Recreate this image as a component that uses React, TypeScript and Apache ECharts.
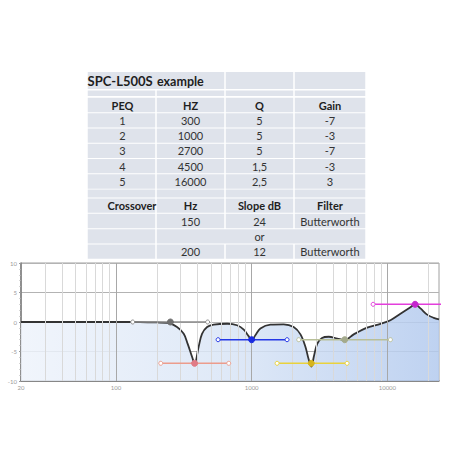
import React, { useEffect, useRef } from "react";
import * as echarts from "echarts";

// ---------- table data ----------
const titleMain = "SPC-L500S";
const titleSub = "example";
const peqHeader = ["PEQ", "HZ", "Q", "Gain"];
const peqRows = [
  ["1", "300", "5", "-7"],
  ["2", "1000", "5", "-3"],
  ["3", "2700", "5", "-7"],
  ["4", "4500", "1,5", "-3"],
  ["5", "16000", "2,5", "3"],
];
const xoHeader = ["Crossover", "Hz", "Slope dB", "Filter"];
const xoRows = [
  ["", "150", "24", "Butterworth"],
  ["", "or"],
  ["", "200", "12", "Butterworth"],
];

// ---------- chart data ----------
const xMin = 20;
const xMax = 24000;
const yTicks = [-10, -5, 0, 5, 10];
const curveFreq = [
  20, 50, 100, 150, 200, 240, 282, 316, 338, 364, 380, 407, 431, 470, 525, 660,
  780, 875, 950, 1000, 1065, 1160, 1375, 1720, 2040, 2290, 2490, 2630, 2760,
  2870, 3040, 3300, 3700, 4270, 4850, 5650, 7090, 8890, 10530, 12480, 14790,
  16000, 17520, 19630, 21950, 24000,
];
const curveGain = [
  0, 0, 0, -0.02, -0.08, -0.15, -0.85, -2.0, -3.7, -5.9, -7.05, -4.2, -2.0,
  -0.85, -0.45, -0.3, -0.55, -1.3, -2.4, -3.1, -2.25, -1.1, -0.45, -0.4, -0.85,
  -2.1, -4.2, -6.3, -7.55, -5.9, -3.7, -2.7, -2.5, -2.8, -3.05, -2.1, -0.95,
  -0.3, 0.3, 1.4, 2.5, 3.0, 2.3, 1.25, 0.7, 0.45,
];
const handleNames = ["HP", "PEQ1", "PEQ2", "PEQ3", "PEQ4", "PEQ5"];
const handleLow = [133, 214, 566, 1540, 2222, 7850];
const handleCenter = [252, 380, 1000, 2750, 4850, 16000];
const handleHigh = [474, 678, 1824, 5050, 10530, 33000];
const handleGain = [0, -7, -3, -7, -3, 3];
const handleColors = ["#8c8c8c", "#ec9c8c", "#2437e6", "#e9d23c", "#b8bf98", "#e33fdc"];
const handleCenterColors = ["#6f6f6f", "#e07b86", "#1a2be0", "#d6b41c", "#a4aa8c", "#c526cf"];
const minorGridFreq = [
  30, 40, 50, 60, 70, 80, 90, 200, 300, 400, 500, 600, 700, 800, 900, 2000,
  3000, 4000, 5000, 6000, 7000, 8000, 9000, 20000,
];
const majorGridFreq = [100, 1000, 10000];

const FONT = "Lato, 'Open Sans', sans-serif";

function buildTable(): any[] {
  const els: any[] = [];
  const cols = [87, 156, 225, 294, 366];
  const fill = "#dfe3eb";
  const cell = (x0: number, x1: number, yc: number, h: number) => {
    els.push({
      type: "rect",
      shape: { x: x0 + 0.75, y: yc - h / 2, width: x1 - x0 - 1.5, height: h },
      style: { fill },
      silent: true,
    });
  };
  const txt = (text: string, x: number, y: number, bold: boolean, size = 11, align = "center") => {
    if (!text) return;
    els.push({
      type: "text",
      x,
      y,
      style: {
        text,
        fill: bold ? "#1e1e1e" : "#333333",
        font: `${bold ? "bold " : ""}${size}px ${FONT}`,
        align,
        verticalAlign: "middle",
      },
      silent: true,
    });
  };
  const colC = (i: number) => (cols[i] + cols[i + 1]) / 2;
  // title row
  const tY = 80.5;
  cell(cols[0], cols[2], tY, 17);
  cell(cols[2], cols[3], tY, 17);
  cell(cols[3], cols[4], tY, 17);
  txt(titleMain, 87.5, tY, true, 13, "left");
  txt(titleSub, 157, tY + 0.5, true, 12.5, "left");
  // spacer
  for (let c = 0; c < 4; c++) cell(cols[c], cols[c + 1], 93.3, 5.6);
  const pitch = 15.3;
  const h = 14.3;
  const peqAll = [peqHeader, ...peqRows];
  peqAll.forEach((row, r) => {
    const yc = 105 + r * pitch;
    for (let c = 0; c < 4; c++) {
      cell(cols[c], cols[c + 1], yc, h);
      txt(row[c], colC(c) + (c === 0 ? 1 : 0), yc, r === 0);
    }
  });
  // spacer 2
  for (let c = 0; c < 4; c++) cell(cols[c], cols[c + 1], 193.5, 8);
  const xoAll = [xoHeader, ...xoRows];
  xoAll.forEach((row, r) => {
    const yc = 205.7 + r * pitch;
    if (row.length === 2) {
      cell(cols[0], cols[1], yc, h);
      cell(cols[1], cols[4], yc, h);
      txt(row[1], colC(2), yc, false);
      return;
    }
    for (let c = 0; c < 4; c++) {
      cell(cols[c], cols[c + 1], yc, h);
      const x = c === 0 ? 132 : colC(c);
      txt(row[c], x, yc, r === 0);
    }
  });
  return els;
}

export default function App() {
  const ref = useRef<HTMLDivElement>(null);
  useEffect(() => {
    if (!ref.current) return;
    const chart = echarts.init(ref.current, undefined, { renderer: "svg" });
    const curveData = curveFreq.map((f, i) => [f, curveGain[i]]);

    const handleSeries = handleNames.map((name, i) => ({
      name,
      type: "line",
      z: 5,
      symbol: "circle",
      lineStyle: { color: handleColors[i], width: 1.5 },
      itemStyle: { color: "#ffffff", borderColor: handleColors[i], borderWidth: 1 },
      data: [
        { value: [handleLow[i], handleGain[i]], symbolSize: 4 },
        {
          value: [handleCenter[i], handleGain[i]],
          symbolSize: 6,
          itemStyle: { color: handleCenterColors[i], borderColor: handleCenterColors[i] },
        },
        { value: [handleHigh[i], handleGain[i]], symbolSize: 4 },
      ],
    }));

    const gridLines = [
      ...minorGridFreq.map((f) => ({ xAxis: f, lineStyle: { color: "#d9d9d9", width: 1, type: "solid" } })),
      ...majorGridFreq.map((f) => ({ xAxis: f, lineStyle: { color: "#a8a8a8", width: 1, type: "solid" } })),
    ];

    chart.setOption({
      animation: false,
      backgroundColor: "#ffffff",
      graphic: buildTable(),
      grid: {
        left: 21,
        right: 13,
        top: 263,
        height: 118,
        show: true,
        borderColor: "#a0a0a0",
        borderWidth: 1,
        backgroundColor: "#ffffff",
      },
      xAxis: {
        type: "log",
        logBase: 10,
        min: xMin,
        max: xMax,
        axisLine: { onZero: false, lineStyle: { color: "#7a7a7a", width: 1.5 } },
        axisTick: { show: false },
        splitLine: { show: false },
        axisLabel: {
          color: "#9a9a9a",
          fontSize: 6,
          fontFamily: FONT,
          margin: 3,
          showMinLabel: true,
          showMaxLabel: false,
          formatter: (v: number) => String(Math.round(v)),
        },
      },
      yAxis: {
        type: "value",
        min: yTicks[0],
        max: yTicks[yTicks.length - 1],
        interval: 5,
        axisLine: { show: true, lineStyle: { color: "#7a7a7a", width: 1.5 } },
        axisTick: { show: true, length: 2, lineStyle: { color: "#999" } },
        minorTick: { show: true, splitNumber: 5, length: 1.5, lineStyle: { color: "#aaa" } },
        splitLine: { show: true, lineStyle: { color: "#b3b3b3", width: 1 } },
        axisLabel: { color: "#9a9a9a", fontSize: 6, fontFamily: FONT, margin: 4 },
      },
      series: [
        {
          name: "grid",
          type: "line",
          z: 1,
          symbol: "none",
          lineStyle: { width: 0, opacity: 0 },
          data: [[xMin, -10]],
          markLine: {
            silent: true,
            symbol: ["none", "none"],
            label: { show: false },
            animation: false,
            data: gridLines,
          },
        },
        {
          name: "response",
          type: "line",
          z: 3,
          smooth: 0.35,
          symbol: "none",
          lineStyle: { color: "#333333", width: 1.8 },
          areaStyle: {
            origin: "start",
            opacity: 0.85,
            color: new echarts.graphic.LinearGradient(0, 0, 1, 0, [
              { offset: 0, color: "#eef3fb" },
              { offset: 0.5, color: "#d9e5f6" },
              { offset: 1, color: "#b3caee" },
            ]),
          },
          data: curveData,
        },
        ...handleSeries,
      ],
    });
    return () => chart.dispose();
  }, []);
  return (
    <div
      ref={ref}
      style={{ position: "fixed", left: 0, top: 0, width: 452, height: 452, background: "#fff" }}
    />
  );
}
